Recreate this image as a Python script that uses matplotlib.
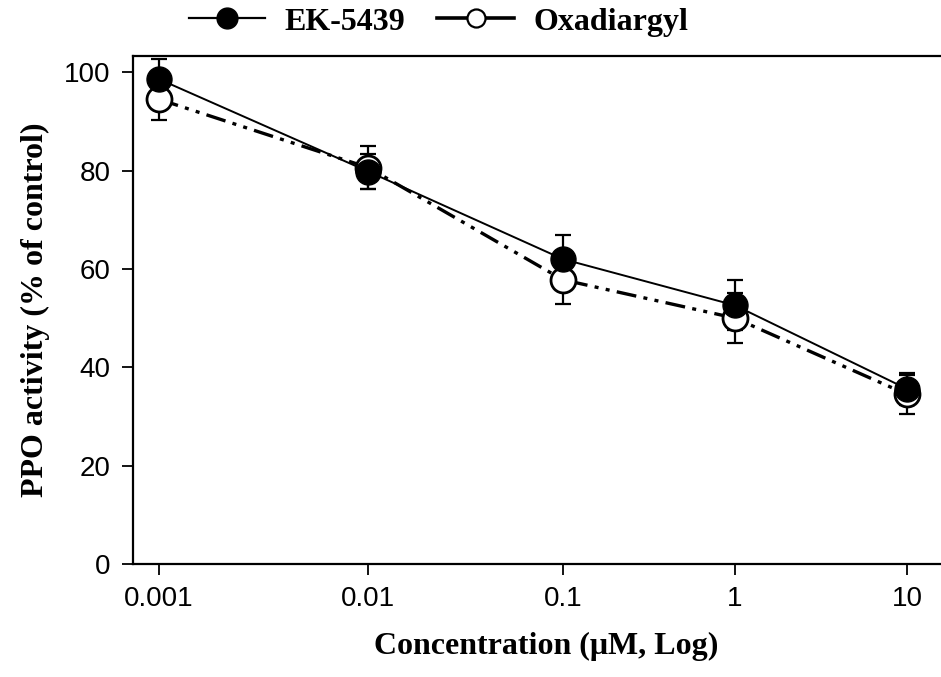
import numpy as np
import matplotlib
matplotlib.use("Agg")
import matplotlib.pyplot as plt
from matplotlib.lines import Line2D

# ---- data ----
conc = [0.001, 0.01, 0.1, 1, 10]
tick_labels = ["0.001", "0.01", "0.1", "1", "10"]
ek_mean = [98.6, 79.8, 62.0, 52.6, 35.6]
ek_err = [4.0, 3.6, 4.9, 5.1, 3.3]
oxa_mean = [94.5, 80.6, 57.8, 50.0, 34.5]
oxa_err = [4.3, 4.3, 5.0, 5.1, 4.0]
series_names = ["EK-5439", "Oxadiargyl"]

# uneven decade spacing used by the original axis (relative units)
dec_log = np.array([-3.0, -2.0, -1.0, 0.0, 1.0])
dec_pos = np.array([0.0, 1.12, 2.16, 3.08, 4.0])


def fwd(x):
    lx = np.log10(np.clip(np.asarray(x, dtype=float), 1e-12, None))
    y = np.interp(lx, dec_log, dec_pos)
    s0 = (dec_pos[1] - dec_pos[0]) / (dec_log[1] - dec_log[0])
    s1 = (dec_pos[-1] - dec_pos[-2]) / (dec_log[-1] - dec_log[-2])
    y = np.where(lx < dec_log[0], dec_pos[0] + (lx - dec_log[0]) * s0, y)
    y = np.where(lx > dec_log[-1], dec_pos[-1] + (lx - dec_log[-1]) * s1, y)
    return y


def inv(y):
    y = np.asarray(y, dtype=float)
    lx = np.interp(y, dec_pos, dec_log)
    s0 = (dec_pos[1] - dec_pos[0]) / (dec_log[1] - dec_log[0])
    s1 = (dec_pos[-1] - dec_pos[-2]) / (dec_log[-1] - dec_log[-2])
    lx = np.where(y < dec_pos[0], dec_log[0] + (y - dec_pos[0]) / s0, lx)
    lx = np.where(y > dec_pos[-1], dec_log[-1] + (y - dec_pos[-1]) / s1, lx)
    return 10.0 ** lx


W, H = 941, 677
fig = plt.figure(figsize=(W / 100, H / 100), dpi=100)
ax = fig.add_axes([133 / W, 1 - 564 / H, 1 - 133 / W + 0.02, (564 - 56) / H])

ax.set_xscale('function', functions=(fwd, inv))

serif = "Liberation Serif"
tickfont = "Liberation Sans"

oxa_dash = (0, (6, 2.2, 1.2, 2.2, 1.2, 2.2))

# error bars behind the markers
ax.errorbar(conc, oxa_mean, yerr=oxa_err, fmt='none', ecolor='black', elinewidth=1.6,
            capsize=6, capthick=1.6, zorder=2)
ax.errorbar(conc, ek_mean, yerr=ek_err, fmt='none', ecolor='black', elinewidth=1.6,
            capsize=6, capthick=1.6, zorder=2)

ax.plot(conc, oxa_mean, color='black', lw=2.4, linestyle=oxa_dash,
        marker='o', markersize=18, markerfacecolor='white', markeredgecolor='black',
        markeredgewidth=2.0, zorder=3)
ax.plot(conc, ek_mean, color='black', lw=1.4, linestyle='-',
        marker='o', markersize=18, markerfacecolor='black', markeredgecolor='black',
        zorder=4)

ax.set_ylim(0, 103.3)
left_pos = 0.0 - (159 - 133) / 210 * 1.12
right_pos = 4.0 + (W * 1.02 - 907) / 172 * 0.92
ax.set_xlim(inv(left_pos), inv(right_pos))

ax.set_xticks(conc)
ax.set_xticklabels(tick_labels)
ax.xaxis.set_minor_locator(matplotlib.ticker.NullLocator())
ax.set_yticks([0, 20, 40, 60, 80, 100])

ax.spines['right'].set_visible(False)
for s in ['left', 'bottom', 'top']:
    ax.spines[s].set_linewidth(1.6)

ax.tick_params(axis='both', direction='out', length=8, width=1.3, labelsize=20, pad=8)
for lab in ax.get_xticklabels() + ax.get_yticklabels():
    lab.set_fontfamily(tickfont)

ax.set_ylabel("PPO activity (% of control)", fontfamily=serif, fontweight='bold',
              fontsize=23, labelpad=10)
ax.set_xlabel("Concentration (μM, Log)", fontfamily=serif, fontweight='bold',
              fontsize=23, labelpad=14)

handles = [
    Line2D([], [], color='black', lw=1.6, marker='o', markersize=15,
           markerfacecolor='black', markeredgecolor='black'),
    Line2D([], [], color='black', lw=2.6, marker='o', markersize=13,
           markerfacecolor='white', markeredgecolor='black', markeredgewidth=1.6),
]
fig.legend(handles, series_names, loc='center left', bbox_to_anchor=(160 / W, 1 - 22 / H),
           ncol=2, frameon=False, handlelength=2.4, columnspacing=1.0, handletextpad=0.6,
           prop={'family': serif, 'weight': 'bold', 'size': 23})

fig.savefig("out.png", dpi=100)
